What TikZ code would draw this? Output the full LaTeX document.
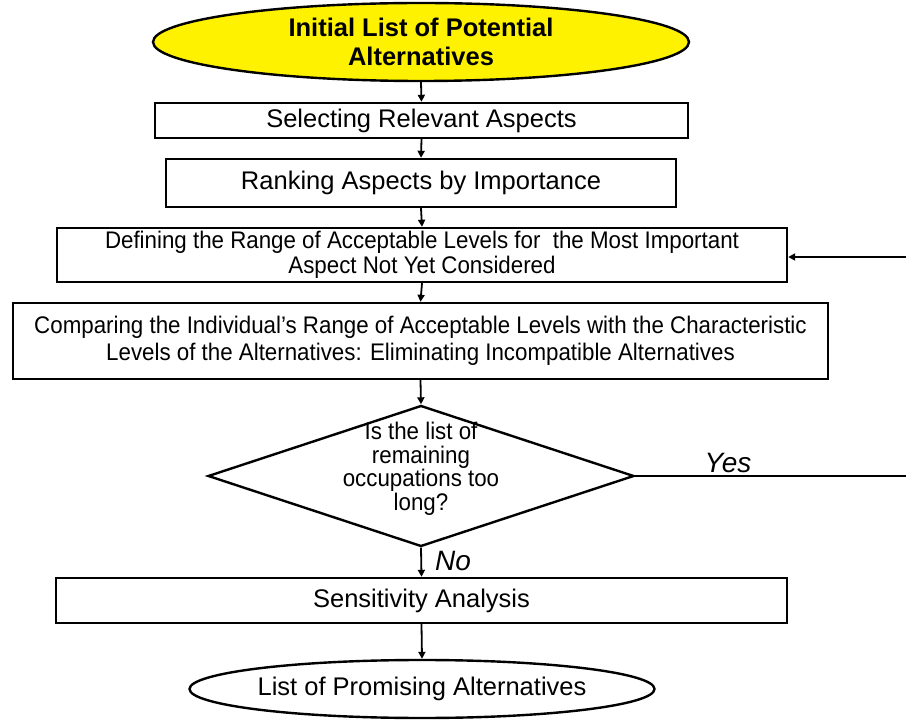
\documentclass[tikz,border=0pt]{standalone}
\usepackage{fontspec}
\setmainfont{Liberation Sans}
\newfontfamily\narrowf[FakeStretch=0.93]{Liberation Sans}
\usetikzlibrary{shapes.geometric,arrows.meta}
\begin{document}
\begin{tikzpicture}[x=1pt,y=-1pt,
  boxst/.style={draw=black,line width=2.4pt,rectangle,inner sep=0pt,align=center},
  ellst/.style={draw=black,line width=2.4pt,ellipse,inner sep=0pt,align=center},
  widetext/.style={font={\fontsize{25.5}{28}\selectfont}},
  narrowtext/.style={font={\narrowf\fontsize{24}{#1}\selectfont}},
  arr/.style={line width=1.8pt,-{Triangle[length=7pt,width=7pt]}},
  plain/.style={line width=1.8pt}]
\useasboundingbox (0,0) rectangle (906,727);
\node[ellst,fill=yellow,minimum width=536pt,minimum height=78pt,
  font={\fontsize{25.5}{29}\selectfont\bfseries}] (top) at (421,42)
  {Initial List of Potential\\Alternatives};
\node[boxst,widetext,minimum width=533pt,minimum height=35pt] (b1) at (421.5,120.5)
  {Selecting Relevant Aspects};
\node[boxst,widetext,minimum width=510pt,minimum height=48pt] (b2) at (421,183)
  {Ranking Aspects by Importance};
\node[boxst,narrowtext=25,minimum width=730pt,minimum height=54pt] (b3) at (422,255)
  {Defining the Range of Acceptable Levels for\ \ the Most Important\\Aspect Not Yet Considered};
\node[boxst,narrowtext=27,minimum width=815pt,minimum height=76pt] (b4) at (420.5,341)
  {Comparing the Individual’s Range of Acceptable Levels with the Characteristic\\Levels of the Alternatives: Eliminating Incompatible Alternatives};
\node[draw=black,line width=2.4pt,diamond,aspect=3,inner sep=0pt,minimum width=426pt,minimum height=141pt] (dia) at (421,476) {};
\node[align=center,inner sep=0pt,narrowtext=23.5] (diat) at (421,469)
  {Is the list of\\remaining\\occupations too\\long?};
\node[boxst,widetext,minimum width=731pt,minimum height=45pt] (b5) at (421.5,600.5)
  {Sensitivity Analysis};
\node[ellst,widetext,minimum width=452pt,minimum height=58pt] (bot) at (422,689)
  {List of Promising Alternatives};
\coordinate (fb) at (906,257);
\coordinate (ye) at (906,476);
\draw[arr] (top.south) -- (b1.north);
\draw[arr] (b1.south) -- (b2.north);
\draw[arr] (b2.south) -- (b3.north);
\draw[arr] (b3.south) -- (b4.north);
\draw[arr] (b4.south) -- (dia.north);
\draw[arr] (dia.south) -- (b5.north);
\draw[arr] (b5.south) -- (bot.north);
\draw[arr] (fb) -- (fb -| b3.east);
\draw[plain] (dia.east) -- (ye);
\node[anchor=base,inner sep=0pt,font={\fontsize{28}{32}\selectfont\itshape}] (yes) at (728,473) {Yes};
\node[anchor=base west,inner sep=0pt,font={\fontsize{28}{32}\selectfont\itshape}] (no) at (435,570) {No};
\end{tikzpicture}
\end{document}
